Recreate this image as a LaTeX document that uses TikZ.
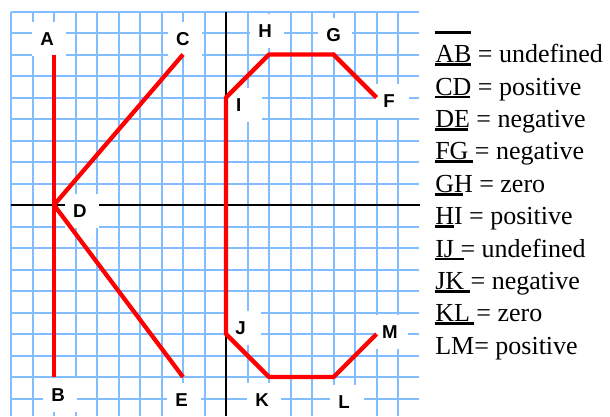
\documentclass[tikz,border=0pt]{standalone}
\usepackage{fontspec}
\setmainfont{Liberation Serif}
\setsansfont{Liberation Sans}
\definecolor{gridblue}{RGB}{130,190,255}
\newsavebox\ovlbox
\newcommand\ovl[1]{\sbox\ovlbox{#1}\rlap{\rule[1.12em]{\wd\ovlbox}{2pt}}\usebox\ovlbox}

\begin{document}
\begin{tikzpicture}[x=16.125pt, y=16.125pt,
  lbl/.style={fill=white, font=\sffamily\bfseries\fontsize{14}{16}\selectfont, anchor=west,
    inner xsep=6pt, inner ysep=0pt, text width=13.5pt, align=left, minimum height=25.5pt},
  seg/.style={red, line width=3.2pt, line join=round},
  txt/.style={anchor=base west, inner sep=0pt, font=\fontsize{19.5}{23}\selectfont}]
\useasboundingbox (-10.512,-9.814) rectangle (17.86,9.535);

% graph paper and axes
\draw[gridblue, line width=1.5pt, step=16.125pt] (-10,-9.814) grid (8.98,9);
\draw[line width=2.2pt] (-10,0) -- (9.02,0);
\draw[line width=2.2pt] (0,9) -- (0,-9.814);

% end points
\coordinate (A) at (-8,7);
\coordinate (B) at (-8,-8);
\coordinate (C) at (-2,7);
\coordinate (D) at (-8,0);
\coordinate (E) at (-2,-8);
\coordinate (F) at (7,5);
\coordinate (G) at (5,7);
\coordinate (H) at (2,7);
\coordinate (I) at (0,5);
\coordinate (J) at (0,-6);
\coordinate (K) at (2,-8);
\coordinate (L) at (5,-8);
\coordinate (M) at (7,-6);

% letters
\node[lbl] (lA) at (-9.02,7.72) {A};
\node[lbl] (lB) at (-8.51,-8.84) {B};
\node[lbl] (lC) at (-2.70,7.72) {C};
\node[lbl] (lD) at (-7.49,-0.28) {D};
\node[lbl] (lE) at (-2.74,-9.07) {E};
\node[lbl] (lF) at (6.93,4.84) {F};
\node[lbl] (lG) at (4.28,7.91) {G};
\node[lbl] (lH) at (1.12,8.09) {H};
\node[lbl] (lI) at (0.09,4.65) {I};
\node[lbl] (lJ) at (0.05,-5.72) {J};
\node[lbl] (lK) at (0.98,-9.07) {K};
\node[lbl] (lL) at (4.84,-9.16) {L};
\node[lbl] (lM) at (6.88,-5.91) {M};

% the letters K and C
\draw[seg] (A) -- (B);
\draw[seg] (C) -- (D) -- (E);
\draw[seg] (F) -- (G) -- (H) -- (I) -- (J) -- (K) -- (L) -- (M);

% slopes
\foreach \s/\v [count=\k from 0] in {AB/undefined,CD/positive,DE/negative,FG/negative,
    GH/zero,HI/positive,IJ/undefined,JK/negative,KL/zero} {
  \node[txt] (s\k) at (9.72,6.62-1.507*\k) {\ovl{\s} = \v};
}
\node[txt] (s9) at (9.72,6.62-1.507*9) {\ovl{LM}= positive};
\end{tikzpicture}
\end{document}
